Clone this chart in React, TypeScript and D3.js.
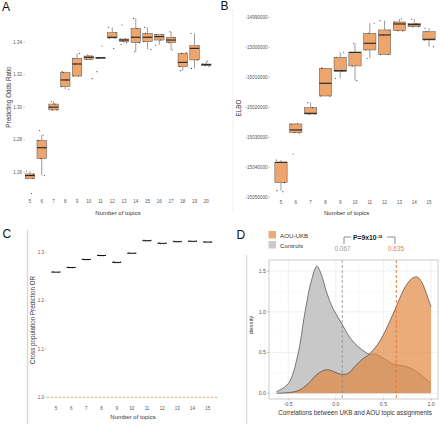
import React from "react";
import * as d3 from "d3";

// ---------- Panel A: Predicting Odds Ratio ----------
const topicsA = [5, 6, 7, 8, 9, 10, 11, 12, 13, 14, 15, 16, 17, 18, 19, 20];
// [low whisker, q1, median, q3, high whisker]
const boxesA: number[][] = [
  [1.256, 1.2563, 1.258, 1.259, 1.2608],
  [1.258, 1.2684, 1.2751, 1.2796, 1.2829],
  [1.2983, 1.2983, 1.3, 1.3019, 1.3034],
  [1.311, 1.3126, 1.3167, 1.3212, 1.3218],
  [1.3191, 1.3191, 1.3265, 1.33, 1.333],
  [1.3294, 1.3294, 1.3306, 1.3314, 1.332],
  [1.33, 1.33, 1.3303, 1.3306, 1.3306],
  [1.3425, 1.3425, 1.3429, 1.3457, 1.349],
  [1.3396, 1.3404, 1.3412, 1.3418, 1.342],
  [1.334, 1.3396, 1.3429, 1.3484, 1.3545],
  [1.3355, 1.3402, 1.3429, 1.3453, 1.349],
  [1.3382, 1.3412, 1.3433, 1.3445, 1.3447],
  [1.3351, 1.3396, 1.3412, 1.3429, 1.3463],
  [1.3224, 1.3249, 1.3275, 1.333, 1.3335],
  [1.3238, 1.329, 1.3361, 1.3377, 1.3453],
  [1.325, 1.3257, 1.3261, 1.3265, 1.3283],
];
const outliersA: number[][] = [
  [1.247], [1.2856], [], [], [], [1.3175], [1.3218, 1.3375], [1.336],
  [1.3504, 1.3385], [], [], [], [], [], [], [],
];
const ticksA = [1.26, 1.28, 1.3, 1.32, 1.34];

// ---------- Panel B: ELBO ----------
const topicsB = [5, 6, 7, 8, 9, 10, 11, 12, 13, 14, 15];
const boxesB: number[][] = [
  [-15047778, -15045111, -15038333, -15038333, -15037600],
  [-15028600, -15028444, -15027556, -15025556, -15025300],
  [-15022300, -15022222, -15022000, -15020111, -15018444],
  [-15016300, -15016222, -15012000, -15007000, -15006800],
  [-15010333, -15008000, -15007778, -15003333, -15001667],
  [-15011111, -15006222, -15001667, -15001667, -14998667],
  [-15003667, -15000889, -14998667, -14995333, -14992000],
  [-15002500, -15002333, -14995889, -14994222, -14991111],
  [-14994600, -14994444, -14992222, -14991556, -14990556],
  [-14993200, -14993111, -14992444, -14992000, -14990556],
  [-14999778, -14997556, -14997333, -14994778, -14993667],
];
const outliersB: number[][] = [[-15048111], [-15035556], [], [], [], [], [], [], [], [], []];
const ticksB = [-14990000, -15000000, -15010000, -15020000, -15030000, -15040000, -15050000];

// ---------- Panel C: Cross population prediction OR ----------
const topicsC = [5, 6, 7, 8, 9, 10, 11, 12, 13, 14, 15];
const valuesC = [1.2593, 1.2689, 1.2855, 1.2938, 1.2795, 1.2985, 1.3245, 1.319, 1.3225, 1.3232, 1.3216];
const ticksC = [1.0, 1.1, 1.2, 1.3];
const tickLabelsC = ["1.0", "1.1", "1.2", "1.3"];

// ---------- Panel D: densities ----------
const corrControls = [-0.624, -0.5, -0.4, -0.33, -0.26, -0.2, -0.15, -0.1, -0.03, 0.06, 0.13, 0.2, 0.27, 0.35, 0.42, 0.5, 0.6, 0.7, 0.8, 0.9, 0.95, 1.0];
const densControls = [0.02, 0.12, 0.47, 0.96, 1.37, 1.56, 1.45, 1.25, 1.04, 0.86, 0.715, 0.61, 0.54, 0.48, 0.48, 0.43, 0.36, 0.34, 0.3, 0.22, 0.17, 0.13];
const corrAOU = [-0.62, -0.4, -0.29, -0.2, -0.13, -0.08, -0.01, 0.05, 0.13, 0.2, 0.27, 0.35, 0.45, 0.55, 0.64, 0.73, 0.8, 0.85, 0.9, 0.95, 1.0];
const densAOU = [0.0, 0.03, 0.12, 0.23, 0.28, 0.29, 0.26, 0.235, 0.245, 0.33, 0.41, 0.48, 0.62, 0.84, 1.08, 1.31, 1.41, 1.43, 1.37, 1.23, 1.06];
const meanControls = 0.067;
const meanAOU = 0.635;
const ticksDx = [-0.5, 0, 0.5, 1.0];
const ticksDy = [0, 0.5, 1.0, 1.5];
const legendD = ["AOU-UKB", "Controls"];

const ORANGE = "#EDA56D";
const ORANGE_D = "#E2843E";
const FONT = "Liberation Sans, Arial, sans-serif";
const jit = [-0.32, 0.28, -0.12, 0.36, -0.38, 0.15, -0.22];

function BoxPlot({ cats, boxes, outs, x, y, w }: any) {
  return (
    <g>
      {cats.map((c: number, i: number) => {
        const [lo, q1, md, q3, hi] = boxes[i];
        const cx = x(c);
        const pts = [lo, q1, md, q3, hi, ...(outs ? outs[i] : [])];
        return (
          <g key={c}>
            <line x1={cx} x2={cx} y1={y(lo)} y2={y(q1)} stroke="#555" strokeWidth={0.6} />
            <line x1={cx} x2={cx} y1={y(q3)} y2={y(hi)} stroke="#555" strokeWidth={0.6} />
            <rect x={cx - w / 2} width={w} y={y(q3)} height={Math.max(0.8, y(q1) - y(q3))} fill={ORANGE} stroke="#555" strokeWidth={0.5} />
            <line x1={cx - w / 2} x2={cx + w / 2} y1={y(md)} y2={y(md)} stroke="#222" strokeWidth={1.1} />
            {pts.map((p, k) => (
              <circle key={k} cx={cx + jit[(k + i) % jit.length] * w} cy={y(p)} r={0.55} fill="#333" />
            ))}
          </g>
        );
      })}
    </g>
  );
}

export default function App() {
  const xA = d3.scalePoint<number>().domain(topicsA).range([30, 206.3]);
  const yA = d3.scaleLinear().domain([1.26, 1.34]).range([172.3, 42]);
  const xB = d3.scalePoint<number>().domain(topicsB).range([281, 429]);
  const yB = d3.scaleLinear().domain([-15050000, -14990000]).range([197.3, 17.3]);
  const xC = d3.scalePoint<number>().domain(topicsC).range([56, 207.7]);
  const yC = d3.scaleLinear().domain([1.0, 1.3]).range([397.3, 252.5]);
  const xD = d3.scaleLinear().domain([-0.5, 1.0]).range([288.3, 431]);
  const yD = d3.scaleLinear().domain([0, 1.5]).range([393.3, 271.1]);
  const pL = 269, pR = 438, pT = 260, pB = 399;

  const areaOf = (xs: number[], ds: number[]) =>
    d3.area<number>()
      .x((_, i) => xD(xs[i]))
      .y0(yD(0))
      .y1((d) => yD(d))
      .curve(d3.curveCatmullRom.alpha(0.5))(ds) as string;
  const lineOf = (xs: number[], ds: number[]) =>
    d3.line<number>()
      .x((_, i) => xD(xs[i]))
      .y((d) => yD(d))
      .curve(d3.curveCatmullRom.alpha(0.5))(ds) as string;

  const minorX = [-0.75, -0.25, 0.25, 0.75];
  const minorY = [0.25, 0.75, 1.25];

  return (
    <div style={{ position: "absolute", left: 0, top: 0 }}>
      <svg width={440} height={424} style={{ display: "block", fontFamily: FONT }}>
        <rect width={440} height={424} fill="#fff" />

        {/* ---------------- Panel A ---------------- */}
        <text x={2} y={10.5} fontSize={12} fill="#111">A</text>
        {ticksA.map((t) => (
          <g key={t}>
            <text x={22} y={yA(t) + 1.5} fontSize={4.5} textAnchor="end" fill="#555">{t.toFixed(2)}</text>
            <line x1={23.5} x2={25} y1={yA(t)} y2={yA(t)} stroke="#777" strokeWidth={0.4} />
          </g>
        ))}
        {topicsA.map((c) => (
          <text key={c} x={xA(c)} y={203} fontSize={4.5} textAnchor="middle" fill="#555">{c}</text>
        ))}
        <text x={118} y={215} fontSize={6} textAnchor="middle" fill="#333">Number of topics</text>
        <text transform="translate(10.5,97) rotate(-90)" fontSize={6.3} textAnchor="middle" fill="#333">Predicting Odds Ratio</text>
        <BoxPlot cats={topicsA} boxes={boxesA} outs={outliersA} x={xA} y={yA} w={9.5} />

        {/* ---------------- Panel B ---------------- */}
        <text x={220.5} y={9.5} fontSize={12} fill="#111">B</text>
        <line x1={232.7} x2={232.7} y1={10} y2={212} stroke="#ccc" strokeWidth={0.6} strokeDasharray="1,1.5" />
        {ticksB.map((t) => (
          <g key={t}>
            <text x={267.5} y={yB(t) + 1.5} fontSize={4.6} textAnchor="end" fill="#555">{t}</text>
            <line x1={268.5} x2={270} y1={yB(t)} y2={yB(t)} stroke="#777" strokeWidth={0.4} />
          </g>
        ))}
        {topicsB.map((c) => (
          <text key={c} x={xB(c)} y={203.5} fontSize={4.5} textAnchor="middle" fill="#555">{c}</text>
        ))}
        <text x={346.7} y={215} fontSize={6} textAnchor="middle" fill="#333">Number of topics</text>
        <text transform="translate(241,108) rotate(-90)" fontSize={6.3} textAnchor="middle" fill="#333">ELBO</text>
        <BoxPlot cats={topicsB} boxes={boxesB} outs={outliersB} x={xB} y={yB} w={12.3} />

        {/* ---------------- Panel C ---------------- */}
        <text x={2.5} y={237.5} fontSize={12} fill="#111">C</text>
        <line x1={27.5} x2={27.5} y1={230} y2={424} stroke="#d6d6d6" strokeWidth={1.4} />
        {ticksC.map((t, i) => (
          <g key={t}>
            <text x={44} y={yC(t) + 1.5} fontSize={4.5} textAnchor="end" fill="#555">{tickLabelsC[i]}</text>
            <line x1={45} x2={46.5} y1={yC(t)} y2={yC(t)} stroke="#777" strokeWidth={0.4} />
          </g>
        ))}
        <line x1={47} x2={218} y1={yC(1.0)} y2={yC(1.0)} stroke={ORANGE_D} strokeWidth={0.8} strokeDasharray="2.2,1.8" />
        {topicsC.map((c) => (
          <text key={c} x={xC(c)} y={410} fontSize={4.5} textAnchor="middle" fill="#555">{c}</text>
        ))}
        <text x={133} y={418.5} fontSize={6} textAnchor="middle" fill="#333">Number of topics</text>
        <text transform="translate(35,320) rotate(-90)" fontSize={6.3} textAnchor="middle" fill="#333">Cross population Prediction OR</text>
        {topicsC.map((c, i) => {
          const cx = xC(c) as number;
          const cy = yC(valuesC[i]);
          return (
            <g key={c}>
              <rect x={cx - 4.5} width={9} y={cy - 0.5} height={1} fill="#111" />
              {jit.map((j, k) => (
                <circle key={k} cx={cx + j * 11} cy={cy + ((k % 3) - 1) * 0.6} r={0.45} fill="#333" />
              ))}
            </g>
          );
        })}

        {/* ---------------- Panel D ---------------- */}
        <text x={236.5} y={239} fontSize={12} fill="#111">D</text>
        <line x1={246.7} x2={246.7} y1={255} y2={424} stroke="#d6d6d6" strokeWidth={1} />
        {/* legend */}
        <rect x={268.5} y={231} width={7.5} height={7.5} fill="#EBAA7A" />
        <rect x={268.5} y={241} width={7.5} height={7.5} fill="#CBCBCB" />
        <text x={280} y={237.5} fontSize={6.2} fill="#333">{legendD[0]}</text>
        <text x={280} y={247.5} fontSize={6.2} fill="#333">{legendD[1]}</text>
        {/* p value bracket */}
        <path d="M344,244 V237 H351" fill="none" stroke="#444" strokeWidth={0.6} />
        <path d="M387,237 H395 V244" fill="none" stroke="#444" strokeWidth={0.6} />
        <text x={353} y={240.3} fontSize={6.8} fontWeight="bold" fill="#222">
          P=9x10<tspan dy={-2.6} fontSize={3.8}>-14</tspan>
        </text>
        <text x={342.5} y={250.5} fontSize={6.4} textAnchor="middle" fill="#9a9a9a">{meanControls.toFixed(3)}</text>
        <text x={396} y={250.5} fontSize={6.4} textAnchor="middle" fill={ORANGE_D}>{meanAOU.toFixed(3)}</text>
        {/* panel */}
        <rect x={pL} y={pT} width={pR - pL} height={pB - pT} fill="#fff" />
        {minorX.map((v) => (
          <line key={"mx" + v} x1={xD(v)} x2={xD(v)} y1={pT} y2={pB} stroke="#f2f2f2" strokeWidth={0.4} />
        ))}
        {minorY.map((v) => (
          <line key={"my" + v} x1={pL} x2={pR} y1={yD(v)} y2={yD(v)} stroke="#f2f2f2" strokeWidth={0.4} />
        ))}
        {ticksDx.map((v) => (
          <line key={"gx" + v} x1={xD(v)} x2={xD(v)} y1={pT} y2={pB} stroke="#e6e6e6" strokeWidth={0.6} />
        ))}
        {ticksDy.map((v) => (
          <line key={"gy" + v} x1={pL} x2={pR} y1={yD(v)} y2={yD(v)} stroke="#e6e6e6" strokeWidth={0.6} />
        ))}
        <path d={areaOf(corrControls, densControls)} fill="#C8C8C8" />
        <path d={lineOf(corrControls, densControls)} fill="none" stroke="#333" strokeWidth={0.6} />
        <path d={areaOf(corrAOU, densAOU)} fill="#E2843E" fillOpacity={0.68} />
        <path d={lineOf(corrAOU, densAOU)} fill="none" stroke="#333" strokeWidth={0.6} />
        <line x1={xD(meanControls)} x2={xD(meanControls)} y1={pT} y2={pB} stroke="#8a8a8a" strokeWidth={0.8} strokeDasharray="3,2" />
        <line x1={xD(meanAOU)} x2={xD(meanAOU)} y1={pT} y2={pB} stroke="#E8752A" strokeWidth={1} strokeDasharray="3,2" />
        <rect x={pL} y={pT} width={pR - pL} height={pB - pT} fill="none" stroke="#aaa" strokeWidth={0.6} />
        {ticksDy.map((v) => (
          <g key={"ty" + v}>
            <text x={266} y={yD(v) + 1.8} fontSize={5.2} textAnchor="end" fill="#555">{v.toFixed(1)}</text>
            <line x1={267} x2={pL} y1={yD(v)} y2={yD(v)} stroke="#777" strokeWidth={0.4} />
          </g>
        ))}
        {ticksDx.map((v) => (
          <g key={"tx" + v}>
            <line x1={xD(v)} x2={xD(v)} y1={pB} y2={pB + 1.5} stroke="#777" strokeWidth={0.4} />
            <text x={xD(v)} y={405.5} fontSize={5.2} textAnchor="middle" fill="#555">{v.toFixed(1)}</text>
          </g>
        ))}
        <text transform="translate(253,325) rotate(-90)" fontSize={5.8} textAnchor="middle" fill="#333">density</text>
        <text x={355} y={414.5} fontSize={6.3} textAnchor="middle" fill="#333">Correlations between UKB and AOU topic assignments</text>
      </svg>
    </div>
  );
}
